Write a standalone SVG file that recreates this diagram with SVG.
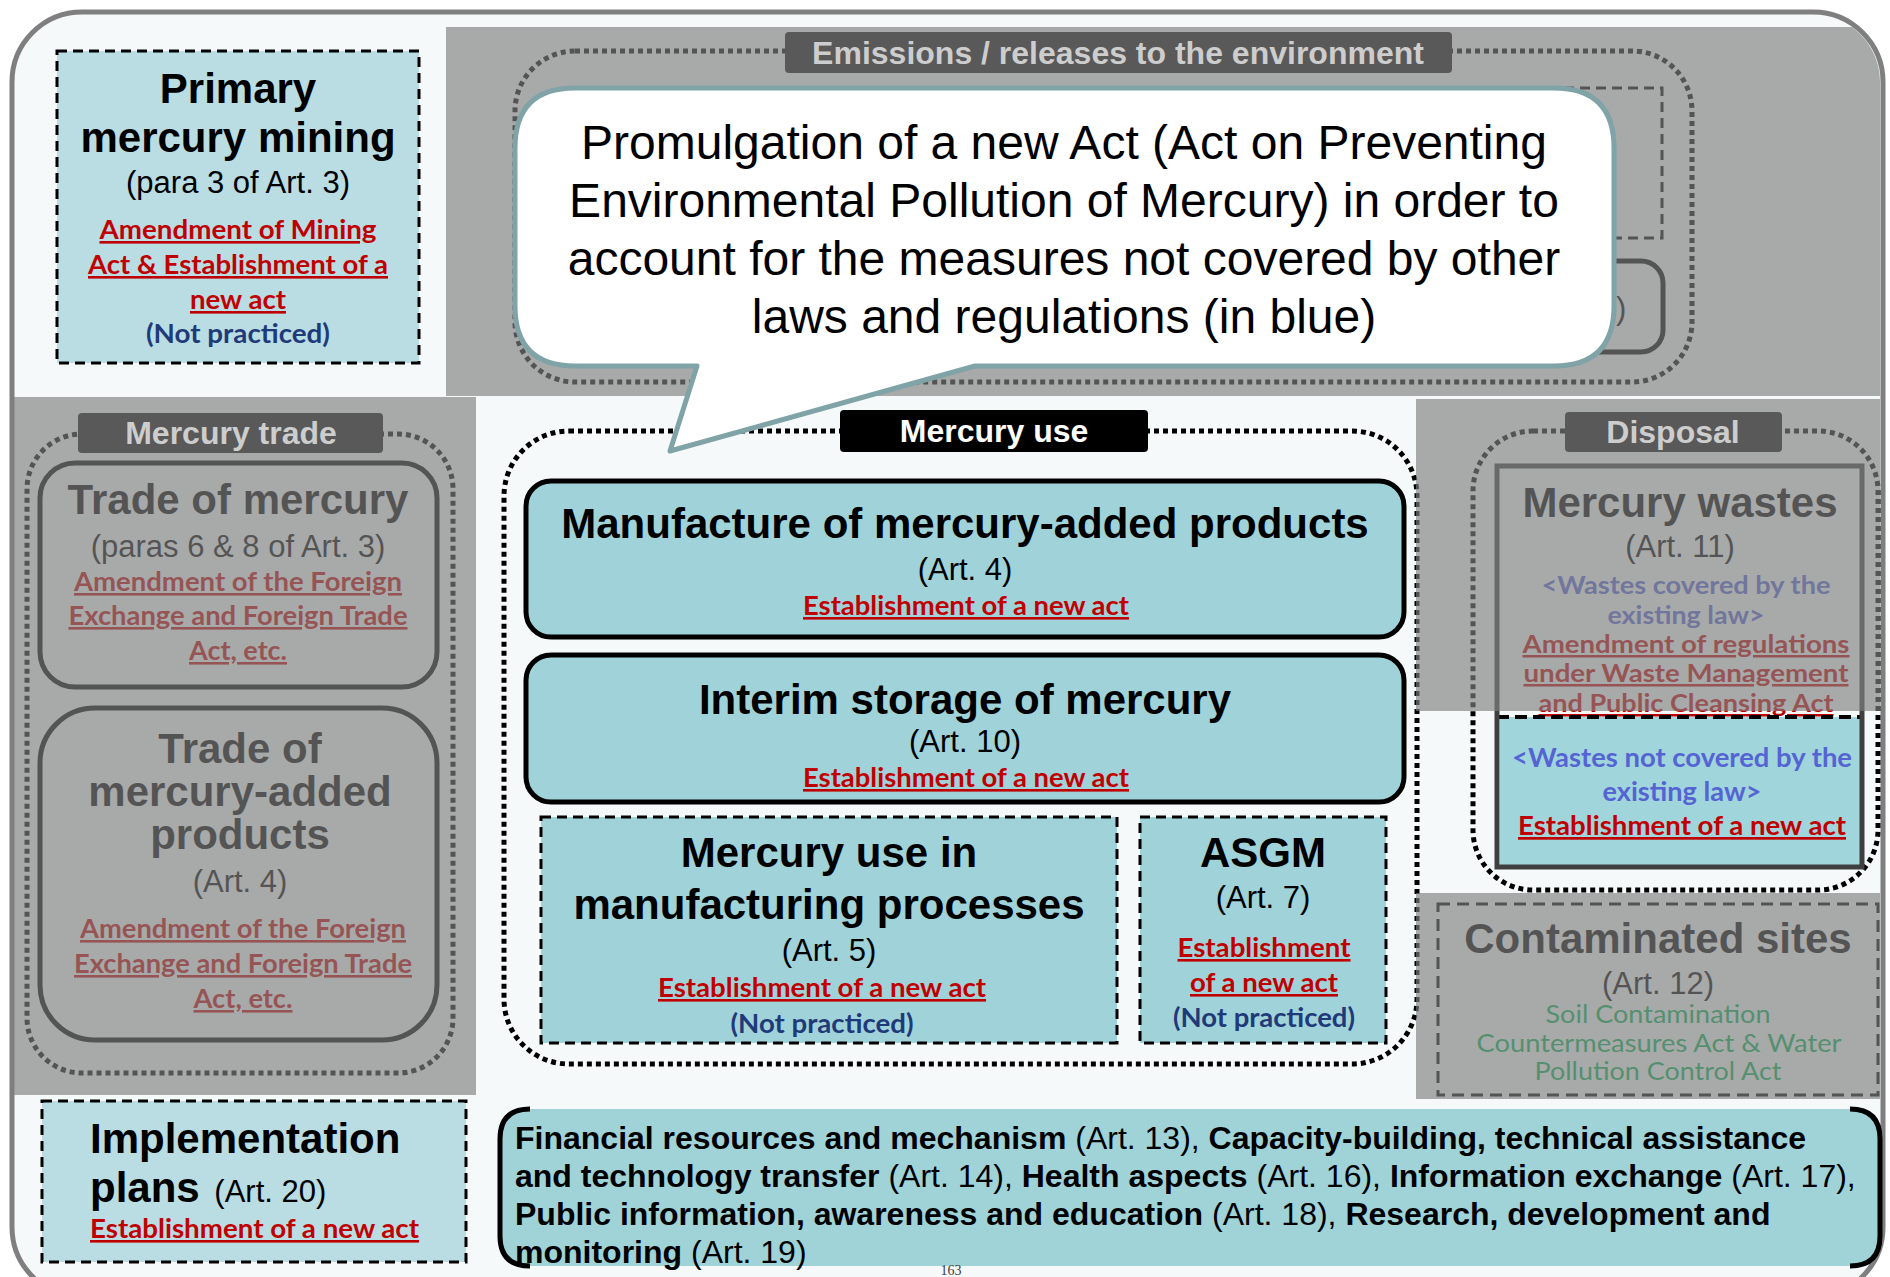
<svg xmlns="http://www.w3.org/2000/svg" width="1890" height="1277" viewBox="0 0 1890 1277">
<defs>
<style>
text{font-family:"Liberation Sans",Arial,sans-serif;fill:#000}
.m{text-anchor:middle}
.t{font-weight:bold;font-size:42px}
.s{font-size:31px}
.c{font-family:Lato,"Open Sans",sans-serif;font-weight:bold;font-size:26px}
.cr{font-family:Lato,"Open Sans",sans-serif;font-size:25px}
.red{fill:#c00000;text-decoration:underline}
.navy{fill:#1f3a78}
.blue{fill:#5564d3}
.green{fill:#00b050}
.ring{fill:none;stroke:#000;stroke-width:5;stroke-dasharray:5 4}
.dash{stroke:#000;stroke-width:3;stroke-dasharray:10 6}
.cyan{fill:#9fd3d9}
.pale{fill:#b9dde3}
.solid{fill:none;stroke:#000;stroke-width:5}
.lab{font-weight:bold;font-size:32px;text-anchor:middle;fill:#cdcdcd}
.labbox{fill:#595959}
.shade{fill:#7f7f7f;opacity:.66}
.art{font-size:32px}
.artb{font-size:32px;font-weight:bold}
.call{font-size:48px;text-anchor:middle}
</style>
<clipPath id="frameClip"><rect x="14" y="14" width="1866" height="1280" rx="68"/></clipPath>
</defs>

<g id="frame">
<rect x="12" y="12" width="1871" height="1285" rx="70" fill="#f5f9fa" stroke="#7f7f7f" stroke-width="5"/>
</g>

<g id="primary-mining">
<rect x="57" y="51" width="362" height="312" class="pale dash"/>
<text x="238" y="103" class="m t">Primary</text>
<text x="238" y="152" class="m t">mercury mining</text>
<text x="238" y="193" class="m s">(para 3 of Art. 3)</text>
<text x="238" y="239" class="m c red" textLength="277" lengthAdjust="spacingAndGlyphs">Amendment of Mining</text>
<text x="238" y="274" class="m c red" textLength="300" lengthAdjust="spacingAndGlyphs">Act &amp; Establishment of a</text>
<text x="238" y="309" class="m c red" textLength="96" lengthAdjust="spacingAndGlyphs">new act</text>
<text x="238" y="343" class="m c navy" textLength="184" lengthAdjust="spacingAndGlyphs">(Not practiced)</text>
</g>

<g id="emissions">
<rect x="515" y="51" width="1177" height="331" rx="60" class="ring"/>
<rect x="1100" y="88" width="562" height="150" fill="none" class="dash"/>
<rect x="1200" y="261" width="463" height="91" rx="22" class="solid"/>
<text x="1616" y="319" class="s">)</text>
</g>

<g id="trade-group">
<rect x="27" y="434" width="426" height="639" rx="55" class="ring"/>
</g>

<g id="trade-mercury">
<rect x="40" y="463" width="397" height="224" rx="35" class="solid"/>
<text x="238" y="514" class="m t">Trade of mercury</text>
<text x="238" y="557" class="m s">(paras 6 &amp; 8 of Art. 3)</text>
<text x="238" y="591" class="m c red" textLength="328" lengthAdjust="spacingAndGlyphs">Amendment of the Foreign</text>
<text x="238" y="625" class="m c red" textLength="339" lengthAdjust="spacingAndGlyphs">Exchange and Foreign Trade</text>
<text x="238" y="660" class="m c red" textLength="98" lengthAdjust="spacingAndGlyphs">Act, etc.</text>
</g>

<g id="trade-products">
<rect x="40" y="708" width="397" height="332" rx="55" class="solid"/>
<text x="240" y="763" class="m t">Trade of</text>
<text x="240" y="806" class="m t">mercury-added</text>
<text x="240" y="849" class="m t">products</text>
<text x="240" y="892" class="m s">(Art. 4)</text>
<text x="243" y="938" class="m c red" textLength="326" lengthAdjust="spacingAndGlyphs">Amendment of the Foreign</text>
<text x="243" y="973" class="m c red" textLength="338" lengthAdjust="spacingAndGlyphs">Exchange and Foreign Trade</text>
<text x="243" y="1008" class="m c red" textLength="99" lengthAdjust="spacingAndGlyphs">Act, etc.</text>
</g>

<g id="mercury-use-group">
<rect x="504" y="431" width="913" height="633" rx="65" class="ring"/>
</g>

<g id="manufacture">
<rect x="526" y="481" width="878" height="156" rx="25" class="cyan" stroke="#000" stroke-width="5"/>
<text x="965" y="538" class="m t">Manufacture of mercury-added products</text>
<text x="965" y="580" class="m s">(Art. 4)</text>
<text x="966" y="615" class="m c red" textLength="326" lengthAdjust="spacingAndGlyphs">Establishment of a new act</text>
</g>

<g id="interim-storage">
<rect x="526" y="655" width="878" height="147" rx="25" class="cyan" stroke="#000" stroke-width="5"/>
<text x="965" y="714" class="m t">Interim storage of mercury</text>
<text x="965" y="752" class="m s">(Art. 10)</text>
<text x="966" y="787" class="m c red" textLength="326" lengthAdjust="spacingAndGlyphs">Establishment of a new act</text>
</g>

<g id="manufacturing-processes">
<rect x="541" y="817" width="576" height="226" class="cyan dash"/>
<text x="829" y="867" class="m t">Mercury use in</text>
<text x="829" y="919" class="m t">manufacturing processes</text>
<text x="829" y="961" class="m s">(Art. 5)</text>
<text x="822" y="997" class="m c red" textLength="328" lengthAdjust="spacingAndGlyphs">Establishment of a new act</text>
<text x="822" y="1033" class="m c navy" textLength="183" lengthAdjust="spacingAndGlyphs">(Not practiced)</text>
</g>

<g id="asgm">
<rect x="1140" y="817" width="246" height="226" class="cyan dash"/>
<text x="1263" y="867" class="m t">ASGM</text>
<text x="1263" y="908" class="m s">(Art. 7)</text>
<text x="1264" y="957" class="m c red" textLength="173" lengthAdjust="spacingAndGlyphs">Establishment</text>
<text x="1264" y="992" class="m c red" textLength="148" lengthAdjust="spacingAndGlyphs">of a new act</text>
<text x="1264" y="1027" class="m c navy" textLength="182" lengthAdjust="spacingAndGlyphs">(Not practiced)</text>
</g>

<g id="disposal-group">
<rect x="1473" y="431" width="405" height="459" rx="60" class="ring"/>
</g>

<g id="mercury-wastes">
<text x="1680" y="517" class="m t">Mercury wastes</text>
<text x="1680" y="557" class="m s">(Art. 11)</text>
<text x="1686" y="594" class="m c blue" style="font-size:25px" textLength="289" lengthAdjust="spacingAndGlyphs">&lt;Wastes covered by the</text>
<text x="1686" y="624" class="m c blue" style="font-size:25px" textLength="157" lengthAdjust="spacingAndGlyphs">existing law&gt;</text>
<text x="1686" y="653" class="m c red" style="font-size:25px" textLength="327" lengthAdjust="spacingAndGlyphs">Amendment of regulations</text>
<text x="1686" y="682" class="m c red" style="font-size:25px" textLength="325" lengthAdjust="spacingAndGlyphs">under Waste Management</text>
<text x="1686" y="712" class="m c red" style="font-size:25px" textLength="295" lengthAdjust="spacingAndGlyphs">and Public Cleansing Act</text>
<rect x="1500" y="717" width="362" height="148" fill="#a0d5db"/>
<line x1="1497" y1="717" x2="1862" y2="717" stroke="#000" stroke-width="4" stroke-dasharray="12 6"/>
<text x="1682" y="767" class="m c blue" style="font-size:27px" textLength="340" lengthAdjust="spacingAndGlyphs">&lt;Wastes not covered by the</text>
<text x="1682" y="801" class="m c blue" style="font-size:27px" textLength="159" lengthAdjust="spacingAndGlyphs">existing law&gt;</text>
<text x="1682" y="835" class="m c red" style="font-size:27px" textLength="328" lengthAdjust="spacingAndGlyphs">Establishment of a new act</text>
<rect x="1497" y="466" width="365" height="401" fill="none" stroke="#3f3f3f" stroke-width="5"/>
</g>

<g id="contaminated-sites">
<rect x="1438" y="904" width="440" height="191" fill="none" stroke="#000" stroke-width="3" stroke-dasharray="12 7"/>
<text x="1658" y="953" class="m t">Contaminated sites</text>
<text x="1658" y="994" class="m s">(Art. 12)</text>
<text x="1658" y="1023" class="m cr green" textLength="225" lengthAdjust="spacingAndGlyphs">Soil Contamination</text>
<text x="1659" y="1052" class="m cr green" textLength="365" lengthAdjust="spacingAndGlyphs">Countermeasures Act &amp; Water</text>
<text x="1658" y="1080" class="m cr green" textLength="247" lengthAdjust="spacingAndGlyphs">Pollution Control Act</text>
</g>

<g id="implementation-plans">
<rect x="42" y="1101" width="424" height="161" class="pale dash"/>
<text x="90" y="1153" class="t">Implementation</text>
<text x="90" y="1202"><tspan class="t">plans</tspan><tspan class="s" dx="6"> (Art. 20)</tspan></text>
<text x="90" y="1238" class="c red" textLength="329" lengthAdjust="spacingAndGlyphs">Establishment of a new act</text>
</g>

<g id="other-articles">
<rect x="500" y="1109" width="1380" height="157" rx="30" fill="#9fd3d8"/>
<path d="M530 1109 Q500 1109 500 1139 L500 1236 Q500 1266 530 1266 M1850 1109 Q1880 1109 1880 1139 L1880 1236 Q1880 1266 1850 1266" fill="none" stroke="#000" stroke-width="5"/>
<text x="515" y="1149"><tspan class="artb">Financial resources and mechanism</tspan><tspan class="art"> (Art. 13), </tspan><tspan class="artb">Capacity-building, technical assistance</tspan></text>
<text x="515" y="1187"><tspan class="artb">and technology transfer</tspan><tspan class="art"> (Art. 14), </tspan><tspan class="artb">Health aspects</tspan><tspan class="art"> (Art. 16), </tspan><tspan class="artb">Information exchange</tspan><tspan class="art"> (Art. 17),</tspan></text>
<text x="515" y="1225"><tspan class="artb">Public information, awareness and education</tspan><tspan class="art"> (Art. 18), </tspan><tspan class="artb">Research, development and</tspan></text>
<text x="515" y="1263"><tspan class="artb">monitoring</tspan><tspan class="art"> (Art. 19)</tspan></text>
</g>

<g id="shading" clip-path="url(#frameClip)">
<rect x="446" y="27" width="1434" height="369" class="shade"/>
<rect x="12" y="397" width="464" height="698" class="shade"/>
<rect x="1416" y="399" width="464" height="312" class="shade"/>
<rect x="1416" y="893" width="464" height="206" class="shade"/>
</g>

<g id="label-emissions">
<rect x="785" y="32" width="667" height="41" rx="4" class="labbox"/>
<text x="1118" y="64" class="lab">Emissions / releases to the environment</text>
</g>
<g id="label-trade">
<rect x="78" y="413" width="305" height="40" rx="4" class="labbox"/>
<text x="231" y="444" class="lab">Mercury trade</text>
</g>
<g id="label-disposal">
<rect x="1565" y="412" width="217" height="40" rx="4" class="labbox"/>
<text x="1673" y="443" class="lab">Disposal</text>
</g>
<g id="label-mercury-use">
<rect x="840" y="410" width="308" height="42" rx="4" fill="#000"/>
<text x="994" y="442" class="lab" style="fill:#fff">Mercury use</text>
</g>

<g id="connectors"></g>

<g id="callout">
<path d="M575 88 H1554 Q1614 88 1614 148 V306 Q1614 366 1554 366 H975 L670 451 L697 366 H575 Q515 366 515 306 V148 Q515 88 575 88 Z" fill="#fff" stroke="#7fa3a7" stroke-width="5" stroke-linejoin="round"/>
<text x="1064" y="159" class="call">Promulgation of a new Act (Act on Preventing</text>
<text x="1064" y="217" class="call">Environmental Pollution of Mercury) in order to</text>
<text x="1064" y="275" class="call">account for the measures not covered by other</text>
<text x="1064" y="333" class="call">laws and regulations (in blue)</text>
</g>

<g id="page-number">
<text x="951" y="1275" class="m" style="font-family:'Liberation Serif',serif;font-size:14px;fill:#404040">163</text>
</g>
</svg>
